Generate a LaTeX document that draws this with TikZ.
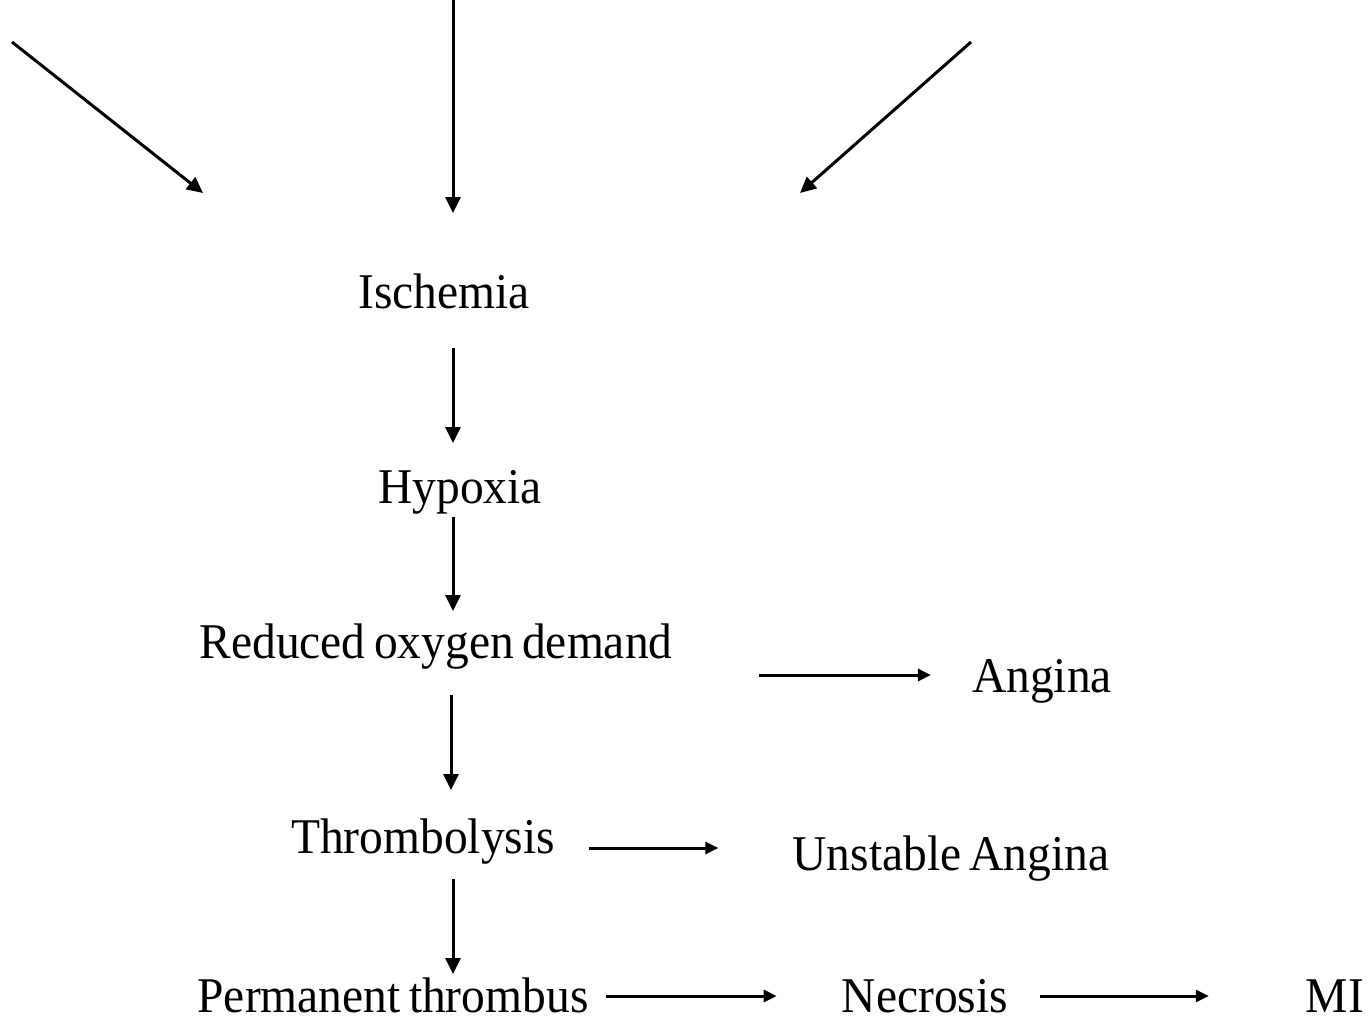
\documentclass[tikz,border=0pt]{standalone}
\usepackage{fontspec}
\setmainfont{Liberation Serif}[FakeStretch=0.95,WordSpace=0.7]
\usetikzlibrary{arrows.meta,calc}
\begin{document}
\begin{tikzpicture}[x=1pt,y=-1pt,
  lbl/.style={anchor=base,inner sep=0pt,font=\fontsize{50}{60}\selectfont},
  arr/.style={line width=3pt,-{Triangle[length=16pt,width=15pt]}},
  harr/.style={line width=3pt,-{Triangle[length=13pt,width=12pt]}}]
\useasboundingbox (0,0) rectangle (1370,1021);
\coordinate (spine) at (453,0);
\coordinate (spineb) at (451,0);
% free ends of the three top arrows
\coordinate (t1s) at (12,42);   \coordinate (t1e) at (203,193);
\coordinate (t2s) at (453,0);   \coordinate (t2e) at (453,213);
\coordinate (t3s) at (971,42);  \coordinate (t3e) at (800,193);
% nodes
\node[lbl] (isch) at (444,308) {Ischemia};
\node[lbl] (hyp)  at (460,503) {Hypoxia};
\node[lbl] (rod)  at (436,658) {Reduced oxygen demand};
\node[lbl] (ang)  at (1042,692) {Angina};
\node[lbl] (thr)  at (423,853) {Thrombolysis};
\node[lbl] (uns)  at (951,870) {Unstable Angina};
\node[lbl] (perm) at (393,1012) {Permanent thrombus};
\node[lbl] (nec)  at (925,1012) {Necrosis};
\node[lbl] (mi)   at (1335,1012) {MI};
% top arrows
\draw[arr] (t1s) -- (t1e);
\draw[arr] (t2s) -- (t2e);
\draw[arr] (t3s) -- (t3e);
% vertical chain
\draw[arr] ($(isch.base -| spine)+(0,40)$) -- ($(hyp.base -| spine)+(0,-60)$);
\draw[arr] ($(hyp.base -| spine)+(0,14)$) -- ($(rod.base -| spine)+(0,-47)$);
\draw[arr] ($(rod.base -| spineb)+(0,37)$) -- ($(thr.base -| spineb)+(0,-63)$);
\draw[arr] ($(thr.base -| spine)+(0,26)$) -- ($(perm.base -| spine)+(0,-38)$);
% horizontal arrows
\draw[harr] ($(rod.base east |- ang.base)+(86,-17)$) -- ($(ang.base west)+(-41,-17)$);
\draw[harr] ($(thr.base east |- uns.base)+(34,-22)$) -- ($(uns.base west)+(-74,-22)$);
\draw[harr] ($(perm.base east)+(17,-16)$) -- ($(nec.base west)+(-65,-16)$);
\draw[harr] ($(nec.base east)+(32,-16)$) -- ($(mi.base west)+(-97,-16)$);
\end{tikzpicture}
\end{document}
